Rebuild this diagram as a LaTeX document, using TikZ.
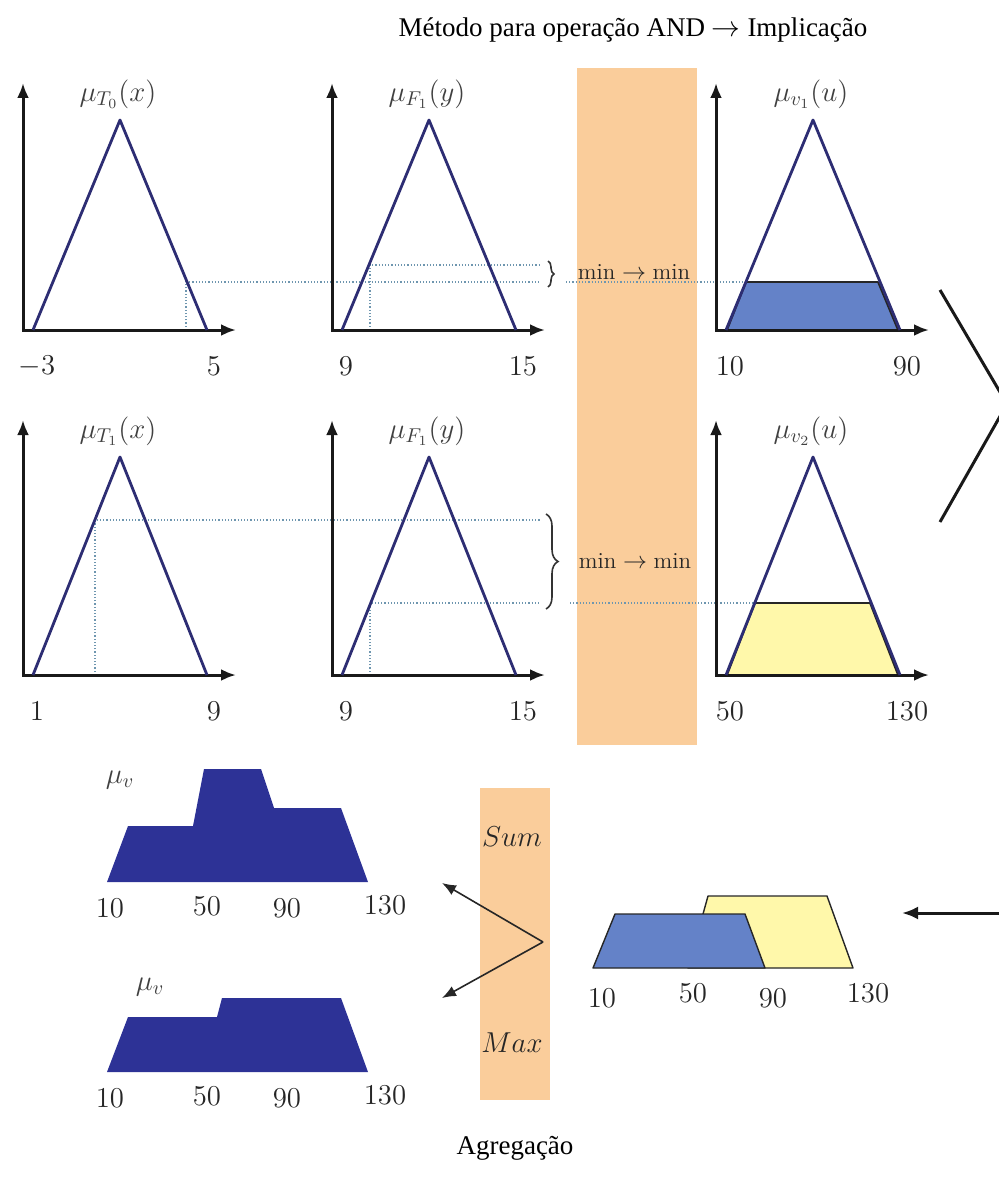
\documentclass[tikz,border=0pt]{standalone}
\usepackage{fontspec}
\newfontfamily\captfont{Liberation Serif}
\usetikzlibrary{arrows.meta,decorations.pathreplacing}
\definecolor{mfline}{RGB}{45,45,115}
\definecolor{barfill}{RGB}{250,205,155}
\definecolor{cutblue}{RGB}{100,130,200}
\definecolor{cutyellow}{RGB}{255,248,170}
\definecolor{aggnavy}{RGB}{45,50,150}
\definecolor{guidecol}{RGB}{110,150,175}
\tikzset{
  axisline/.style = {{Latex[length=7.5pt,width=6pt]}-{Latex[length=7.5pt,width=6pt]},
                     line width=1.5pt, black!90},
  mfcurve/.style  = {mfline, line width=1.4pt, line join=round},
  cutfill/.style  = {draw=black!85, line width=0.9pt, line join=round},
  guide/.style    = {densely dotted, guidecol, line width=0.6pt},
  minbrace/.style = {decorate, black!80, line width=0.8pt},
  mulab/.style    = {font=\fontsize{14}{16}\selectfont, text=black!75},
  ticklab/.style  = {font=\fontsize{14}{16}\selectfont, text=black!85},
  aggnum/.style   = {font=\fontsize{14}{16}\selectfont, text=black!85},
  oplab/.style    = {font=\fontsize{11.5}{14}\selectfont, text=black!85},
  captxt/.style   = {font=\captfont\fontsize{13.5}{16}\selectfont},
  aggarrow/.style = {-{Latex[length=7pt,width=5.5pt]}, line width=0.8pt, black!85},
  bigarrow/.style = {-{Latex[length=8pt,width=6.5pt]}, line width=1.5pt, black!90}
}

\begin{document}
\begin{tikzpicture}[x=0.5pt,y=-0.5pt]
  \useasboundingbox (0,0) rectangle (999,1177);
  \clip (0,0) rectangle (999,1177);
  % operator bars
  \fill[barfill] (577,68) rectangle (697,745);
  \fill[barfill] (480,788) rectangle (550,1100);
  \node[captxt] (title) at (633,30) {Método para operação AND $\rightarrow$ Implicação};
  \node[captxt] (agg) at (515,1148) {Agregação};

  % clipped consequents
  \filldraw[cutfill,fill=cutblue]   (727,330) -- (746,282) -- (878,282) -- (898,330) -- cycle;
  \filldraw[cutfill,fill=cutyellow] (727,675) -- (755,603) -- (870,603) -- (898,675) -- cycle;

  % membership levels
  \draw[guide] (186,330) -- (186,282) -- (540,282);
  \draw[guide] (370,330) -- (370,265) -- (540,265);
  \draw[guide] (566,282) -- (746,282);
  \draw[guide] (95,675) -- (95,520) -- (540,520);
  \draw[guide] (370,675) -- (370,603) -- (540,603);
  \draw[guide] (570,603) -- (755,603);
  \draw[minbrace,decoration={brace,amplitude=3pt}]  (548,261) -- (548,287);
  \draw[minbrace,decoration={brace,amplitude=6pt}]  (546,514) -- (546,609);
  \node[oplab] (min-a) at (634,272) {$\min\rightarrow\min$};
  \node[oplab] (min-b) at (635,561) {$\min\rightarrow\min$};

  % six panels: x0 / base / axis top / peak / label / low / high
  \foreach \px/\py/\pt/\pk/\lab/\lo/\hi [count=\i] in {
      23/330/83/120/{\mu_{T_0}(x)}/{-3}/5,
      332/330/83/120/{\mu_{F_1}(y)}/9/15,
      716/330/83/120/{\mu_{v_1}(u)}/10/90,
      23/675/420/457/{\mu_{T_1}(x)}/1/9,
      332/675/420/457/{\mu_{F_1}(y)}/9/15,
      716/675/420/457/{\mu_{v_2}(u)}/50/130} {
    \draw[axisline] (\px,\pt) -- (\px,\py) -- (\px+213,\py);
    \draw[mfcurve] (\px+10,\py) -- (\px+97,\pk) -- (\px+184,\py);
    \node[mulab] (mu-\i) at (\px+95,\pt+11) {$\lab$};
    \node[ticklab] (lo-\i) at (\px+14,\py+36) {$\lo$};
    \node[ticklab] (hi-\i) at (\px+191,\py+36) {$\hi$};
  }

  % implication to aggregation
  \draw[line width=1.5pt,black!90] (940,290) -- (1007,404) -- (940,522);
  \coordinate (fromimp) at (999,913);
  \coordinate (toagg) at (902,913);
  \draw[bigarrow] (fromimp) -- (toagg);

  % union of the clipped sets
  \filldraw[cutfill,line width=0.7pt,fill=cutyellow] (688,968) -- (708,896) -- (827,896) -- (853,968) -- cycle;
  \filldraw[cutfill,line width=0.7pt,fill=cutblue]   (593,968) -- (615,914) -- (745,914) -- (765,968) -- cycle;
  \node[aggnum] (u10) at (602,998) {$10$};
  \node[aggnum] (u50) at (693,993) {$50$};
  \node[aggnum] (u90) at (773,998) {$90$};
  \node[aggnum] (u130) at (868,993) {$130$};

  % sum / max
  \node[mulab,text=black!85] (sum) at (512,837) {$Sum$};
  \node[mulab,text=black!85] (max) at (512,1043) {$Max$};
  \coordinate (aggsplit) at (543,942);
  \coordinate (tosum) at (442,883);
  \coordinate (tomax) at (442,998);
  \draw[aggarrow] (aggsplit) -- (tosum);
  \draw[aggarrow] (aggsplit) -- (tomax);

  \fill[aggnavy] (107,882) -- (128,826) -- (193,826) -- (204,769) -- (261,769)
                 -- (274,808) -- (341,808) -- (368,882) -- cycle;
  \fill[aggnavy] (107,1072) -- (128,1017) -- (217,1017) -- (222,998) -- (341,998)
                 -- (368,1072) -- cycle;
  \node[mulab] (musum) at (120,780) {$\mu_v$};
  \node[mulab] (mumax) at (150,987) {$\mu_v$};
  \foreach \v/\x/\dy in {10/110/0,50/207/-2,90/287/0,130/385/-3} {
    \node[aggnum] (s\v) at (\x,908+\dy) {$\v$};
    \node[aggnum] (m\v) at (\x,1098+\dy) {$\v$};
  }
\end{tikzpicture}
\end{document}
